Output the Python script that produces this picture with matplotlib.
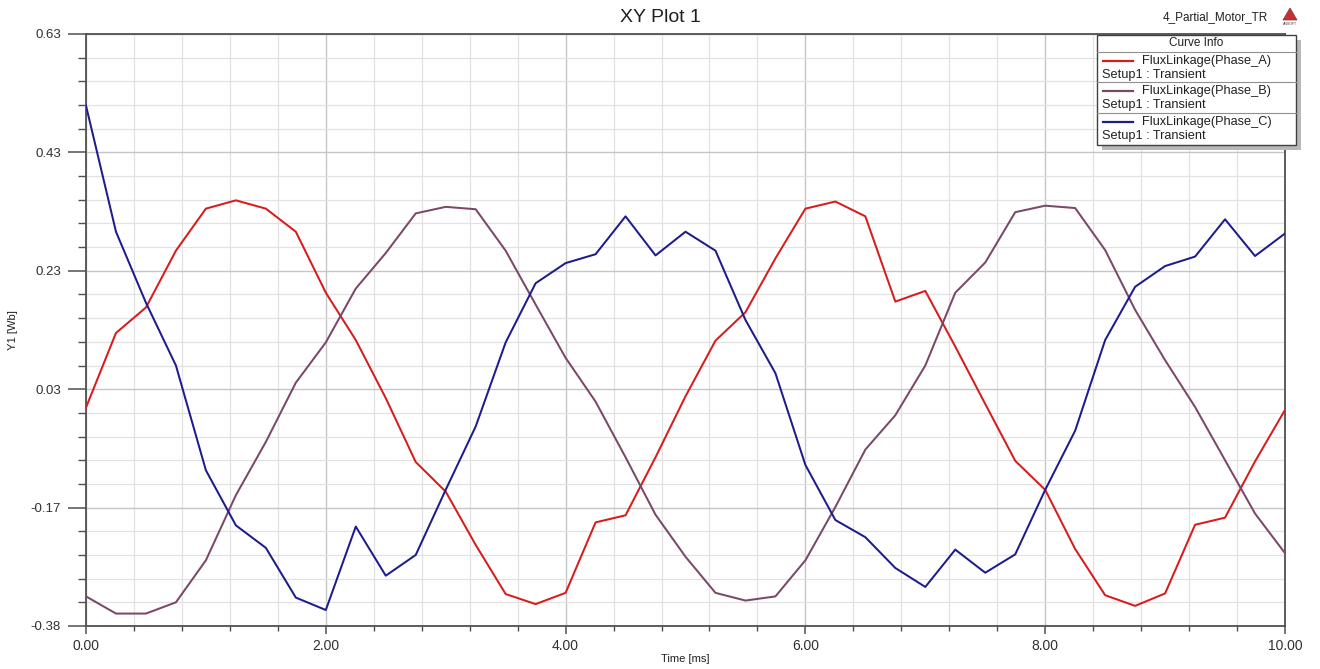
import matplotlib
matplotlib.use("Agg")
import matplotlib.pyplot as plt
from matplotlib.ticker import FixedLocator, MultipleLocator
from matplotlib.patches import Rectangle, Polygon
from matplotlib.lines import Line2D

plt.rcParams['font.family'] = ['Liberation Sans', 'DejaVu Sans']

# ---------------- data ----------------
time_ms = [0.00, 0.25, 0.50, 0.75, 1.00, 1.25, 1.50, 1.75, 2.00, 2.25,
           2.50, 2.75, 3.00, 3.25, 3.50, 3.75, 4.00, 4.25, 4.50, 4.75,
           5.00, 5.25, 5.50, 5.75, 6.00, 6.25, 6.50, 6.75, 7.00, 7.25,
           7.50, 7.75, 8.00, 8.25, 8.50, 8.75, 9.00, 9.25, 9.50, 9.75, 10.00]

phase_a = [-0.006, 0.120, 0.163, 0.259, 0.330, 0.344, 0.330, 0.291, 0.188, 0.108,
           0.010, -0.098, -0.148, -0.238, -0.321, -0.338, -0.319, -0.200, -0.188, -0.090,
           0.013, 0.107, 0.155, 0.246, 0.330, 0.342, 0.317, 0.173, 0.191, 0.097,
           0.000, -0.096, -0.145, -0.245, -0.323, -0.341, -0.320, -0.204, -0.192, -0.097, -0.010]

phase_b = [-0.325, -0.354, -0.354, -0.335, -0.264, -0.154, -0.064, 0.036, 0.104, 0.195,
           0.255, 0.322, 0.333, 0.329, 0.259, 0.168, 0.078, 0.004, -0.090, -0.187,
           -0.258, -0.319, -0.332, -0.325, -0.264, -0.174, -0.077, -0.019, 0.065, 0.188,
           0.239, 0.324, 0.335, 0.331, 0.260, 0.159, 0.074, -0.005, -0.095, -0.185, -0.252]

phase_c = [0.504, 0.291, 0.171, 0.065, -0.112, -0.205, -0.243, -0.327, -0.348, -0.207,
           -0.290, -0.255, -0.145, -0.038, 0.104, 0.204, 0.238, 0.253, 0.317, 0.251,
           0.291, 0.259, 0.142, 0.052, -0.103, -0.196, -0.225, -0.277, -0.309, -0.246,
           -0.285, -0.254, -0.145, -0.045, 0.108, 0.198, 0.233, 0.249, 0.312, 0.250, 0.288]

series_names = ["FluxLinkage(Phase_A)", "FluxLinkage(Phase_B)", "FluxLinkage(Phase_C)"]
series_sub = "Setup1 : Transient"
series_colors = ["#d81c1c", "#7a4868", "#1c1c8c"]

x_ticks = [0.0, 2.0, 4.0, 6.0, 8.0, 10.0]
x_ticklabels = ["0.00", "2.00", "4.00", "6.00", "8.00", "10.00"]
y_ticks = [0.625, 0.425, 0.225, 0.025, -0.175, -0.375]
y_ticklabels = ["0.63", "0.43", "0.23", "0.03", "-0.17", "-0.38"]

# ---------------- figure ----------------
W, H = 1320, 669
fig = plt.figure(figsize=(W / 100, H / 100), dpi=100)
fig.patch.set_facecolor("white")

def fx(px):
    return px / W

def fy(py):
    return 1 - py / H

ax_l, ax_r, ax_t, ax_b = 86, 1285, 34, 626
ax = fig.add_axes([fx(ax_l), fy(ax_b), (ax_r - ax_l) / W, (ax_b - ax_t) / H])

for vals, col in zip([phase_a, phase_b, phase_c], series_colors):
    ax.plot(time_ms, vals, color=col, lw=1.45, solid_joinstyle="round", zorder=3)

ax.set_xlim(0, 10)
ax.set_ylim(-0.375, 0.625)
ax.xaxis.set_major_locator(FixedLocator(x_ticks))
ax.set_xticklabels(x_ticklabels)
ax.xaxis.set_minor_locator(MultipleLocator(0.4))
ax.yaxis.set_major_locator(FixedLocator(y_ticks))
ax.set_yticklabels(y_ticklabels)
ax.yaxis.set_minor_locator(FixedLocator([0.625 - 0.04 * i for i in range(26)]))

ax.grid(which="major", color="#c6c6c6", lw=1.0, zorder=0)
ax.grid(which="minor", color="#e2e2e2", lw=0.9, zorder=0)
ax.set_axisbelow(True)

for s in ax.spines.values():
    s.set_color("#505050")
    s.set_linewidth(1.3)

ax.tick_params(axis="y", which="major", length=13, width=1.1, color="#505050",
               labelsize=9.5, labelcolor="#303030", pad=5)
ax.tick_params(axis="y", which="minor", length=6, width=1.0, color="#505050")
ax.tick_params(axis="x", which="major", length=6, width=1.1, color="#505050",
               labelsize=10, labelcolor="#303030", pad=3)
ax.tick_params(axis="x", which="minor", length=3.5, width=1.0, color="#505050")

ax.set_xlabel("Time [ms]", fontsize=8, color="#202020", labelpad=1)
ax.set_ylabel("Y1 [Wb]", fontsize=8, color="#202020", labelpad=9)

# title and project name
fig.text(0.5, fy(17), "XY Plot 1", ha="center", va="center", fontsize=14, color="#202020")
fig.text(fx(1268), fy(17), "4_Partial_Motor_TR", ha="right", va="center", fontsize=8.5, color="#202020")
# small logo
fig.patches.append(Polygon([[fx(1283), fy(20)], [fx(1297), fy(20)], [fx(1290), fy(8)]],
                           closed=True, transform=fig.transFigure, facecolor="#c83030",
                           edgecolor="#803030", lw=0.5, figure=fig))
fig.text(fx(1290), fy(24), "ANSOFT", ha="center", va="center", fontsize=2.5, color="#404040")

# ---------------- legend (Curve Info box) ----------------
lx0, lx1, ly0, ly1 = 1097, 1296, 35, 145
# shadow
fig.patches.append(Rectangle((fx(lx0 + 5), fy(ly1 + 5)), (lx1 - lx0) / W, (ly1 - ly0) / H,
                             transform=fig.transFigure, facecolor="#b8b8b8", edgecolor="none",
                             zorder=5, figure=fig))
fig.patches.append(Rectangle((fx(lx0), fy(ly1)), (lx1 - lx0) / W, (ly1 - ly0) / H,
                             transform=fig.transFigure, facecolor="white", edgecolor="#404040",
                             lw=1.0, zorder=6, figure=fig))
fig.text(fx((lx0 + lx1) / 2), fy(43), "Curve Info", ha="center", va="center",
         fontsize=8.5, color="#202020", zorder=7)
sep_rows = [52, 82, 113]
for yy in sep_rows:
    fig.lines.append(Line2D([fx(lx0), fx(lx1)], [fy(yy), fy(yy)], transform=fig.transFigure,
                            color="#909090", lw=0.8, zorder=7, figure=fig))
row_tops = [52, 82, 113]
for i, (name, col) in enumerate(zip(series_names, series_colors)):
    top = row_tops[i]
    yl = top + 9
    fig.lines.append(Line2D([fx(1103), fx(1133)], [fy(yl), fy(yl)], transform=fig.transFigure,
                            color=col, lw=1.6, zorder=7, figure=fig))
    fig.text(fx(1142), fy(yl), name, ha="left", va="center", fontsize=9.2,
             color="#202020", zorder=7)
    fig.text(fx(1102), fy(yl + 14), series_sub, ha="left", va="center", fontsize=9.2,
             color="#202020", zorder=7)

fig.savefig("out.png", dpi=100, facecolor="white")
